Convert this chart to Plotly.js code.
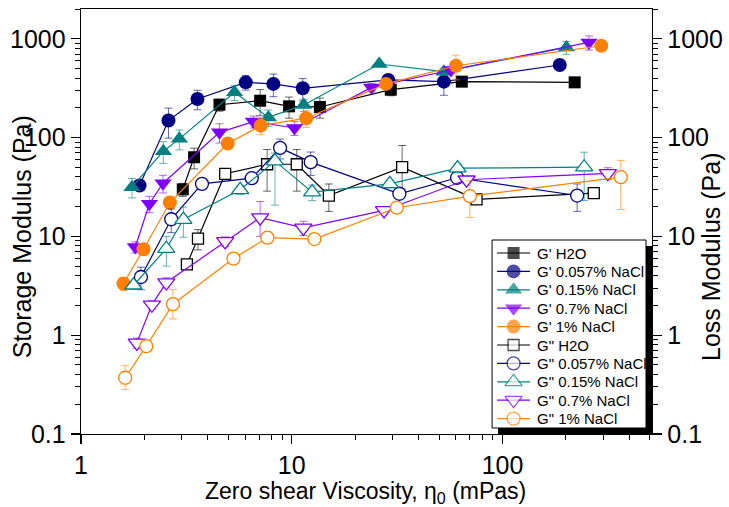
<!DOCTYPE html>
<html>
<head>
<meta charset="utf-8">
<script src="https://cdn.plot.ly/plotly-3.0.1.min.js"></script>
<style>html,body{margin:0;padding:0;background:#fff;}#chart{width:729px;height:507px;}</style>
</head>
<body>
<div id="chart"></div>
<script>
// ---- data ----
const seriesNames = ["G' H2O", "G' 0.057% NaCl", "G' 0.15% NaCl", "G' 0.7% NaCl", "G' 1% NaCl",
                     'G" H2O', 'G" 0.057% NaCl', 'G" 0.15% NaCl', 'G" 0.7% NaCl', 'G" 1% NaCl'];

const gpH2O_x   = [3.04, 3.44, 4.54, 7.08, 9.71, 13.6, 29.5, 64.1, 220];
const gpH2O_y   = [29.9, 63.2, 215, 236, 207, 204, 305, 368, 362];
const gpH2O_e   = [4.5, 15, 30, 70, 50, 47, 40, 0, 0];

const gp057_x   = [1.896, 2.60, 3.57, 6.05, 8.18, 11.28, 28.7, 52.7, 186.9];
const gp057_y   = [32.7, 148.6, 246, 362, 349, 315, 383, 368, 542];
const gp057_e   = [3, 50, 55, 60, 90, 80, 50, 100, 0];

const gp015_x   = [1.745, 2.46, 2.93, 5.35, 7.75, 11.4, 26.0, 52.7, 201];
const gp015_y   = [31.5, 72.8, 97, 287, 160, 214, 555, 464, 816];
const gp015_e   = [7, 18, 22, 50, 30, 30, 0, 40, 120];

const gp07_x    = [1.81, 2.11, 2.45, 4.54, 6.58, 10.3, 23.9, 56.9, 257];
const gp07_y    = [7.8, 21.4, 34.5, 113, 145, 125, 322, 483, 918];
const gp07_e    = [1, 4, 7, 25, 20, 20, 30, 40, 150];

const gp1_x     = [1.59, 1.98, 2.64, 4.97, 7.13, 11.7, 28.0, 60.1, 294];
const gp1_y     = [3.33, 7.4, 22, 87, 132, 157, 349, 533, 850];
const gp1_e     = [0.5, 1, 3, 5, 25, 30, 20, 150, 0];

const gppH2O_x  = [3.18, 3.59, 4.83, 7.64, 10.56, 15.0, 33.4, 75.3, 271];
const gppH2O_y  = [5.2, 9.5, 43, 53.7, 53.7, 25.9, 50.1, 23.7, 27.4];
const gppH2O_eu = [0.5, 2.2, 3, 22, 22, 8, 33, 1, 2];
const gppH2O_ed = [0.5, 2.2, 3, 25, 25, 8, 20, 1, 2];

const gpp057_x  = [1.925, 2.68, 3.75, 6.46, 8.80, 12.3, 32.4, 60.9, 226];
const gpp057_y  = [3.88, 14.9, 34.0, 38.8, 78.7, 56.4, 27.0, 39.2, 25.9];
const gpp057_e  = [1, 4, 3, 4, 18, 15, 2, 3, 8];

const gpp015_x  = [1.775, 2.54, 3.06, 5.69, 8.33, 12.5, 29.2, 61.2, 244];
const gpp015_y  = [3.2, 7.5, 14.8, 29.6, 57.7, 28.0, 34.0, 49.0, 50.1];
const gpp015_eu = [0.3, 2.5, 5, 3, 12, 5, 3, 5, 21];
const gpp015_ed = [0.3, 2.5, 5, 3, 37, 5, 3, 5, 27];

const gpp07_x   = [1.84, 2.17, 2.54, 4.83, 7.08, 11.35, 27.4, 67.5, 316];
const gpp07_y   = [0.836, 2.03, 3.41, 8.9, 15.5, 12.2, 18.3, 37.4, 43.5];
const gpp07_eu  = [0.1, 0.2, 0.4, 1, 7, 2, 1, 3, 6];
const gpp07_ed  = [0.1, 0.2, 0.4, 1, 5.5, 2, 1, 3, 6];

const gpp1_x    = [1.62, 2.04, 2.73, 5.29, 7.66, 12.8, 31.5, 70, 364];
const gpp1_y    = [0.371, 0.774, 2.06, 5.96, 9.7, 9.4, 19.5, 25.5, 39.7];
const gpp1_eu   = [0.12, 0.08, 0.85, 0.3, 0.5, 0.5, 1, 11, 19];
const gpp1_ed   = [0.09, 0.08, 0.6, 0.3, 0.5, 0.5, 1, 10, 21];

const yTickVals = [0.1, 1, 10, 100, 1000];
const yTickText = ['0.1', '1', '10', '100', '1000'];
const xTickVals = [1, 10, 100];
const xTickText = ['1', '10', '100'];

const xTitle  = 'Zero shear Viscosity, η<sub>0</sub> (mPas)';
const yTitle  = 'Storage Modulus (Pa)';
const y2Title = 'Loss Modulus (Pa)';

// ---- styling ----
const FONT = 'Liberation Sans, Arial, sans-serif';
const C = {black:'#000000', navy:'#000080', teal:'#008080', purple:'#8000FF', orange:'#FF8000'};

function errColor(hex){
  const r=parseInt(hex.slice(1,3),16), g=parseInt(hex.slice(3,5),16), b=parseInt(hex.slice(5,7),16);
  return 'rgba('+r+','+g+','+b+',0.6)';
}

const styles = [
  {color:C.black,  symbol:'square',        size:12, open:false},
  {color:C.navy,   symbol:'circle',        size:14, open:false},
  {color:C.teal,   symbol:'triangle-up',   size:15, open:false},
  {color:C.purple, symbol:'triangle-down', size:15, open:false},
  {color:C.orange, symbol:'circle',        size:14, open:false},
  {color:C.black,  symbol:'square',        size:11, open:true},
  {color:C.navy,   symbol:'circle',        size:13, open:true},
  {color:C.teal,   symbol:'triangle-up',   size:15, open:true},
  {color:C.purple, symbol:'triangle-down', size:15, open:true},
  {color:C.orange, symbol:'circle',        size:13, open:true}
];

const dataSets = [
  [gpH2O_x, gpH2O_y, gpH2O_e, gpH2O_e],
  [gp057_x, gp057_y, gp057_e, gp057_e],
  [gp015_x, gp015_y, gp015_e, gp015_e],
  [gp07_x, gp07_y, gp07_e, gp07_e],
  [gp1_x, gp1_y, gp1_e, gp1_e],
  [gppH2O_x, gppH2O_y, gppH2O_eu, gppH2O_ed],
  [gpp057_x, gpp057_y, gpp057_e, gpp057_e],
  [gpp015_x, gpp015_y, gpp015_eu, gpp015_ed],
  [gpp07_x, gpp07_y, gpp07_eu, gpp07_ed],
  [gpp1_x, gpp1_y, gpp1_eu, gpp1_ed]
];

const traces = dataSets.map((d, i) => {
  const s = styles[i];
  return {
    type:'scatter', mode:'lines+markers', name:seriesNames[i], showlegend:false,
    x:d[0], y:d[1],
    line:{color:s.color, width:1.2},
    marker:{symbol:s.symbol, size:s.size,
            color: s.open ? '#ffffff' : s.color,
            line: s.open ? {width:1.3, color:s.color} : {width:0}},
    error_y:{type:'data', symmetric:false, array:d[2], arrayminus:d[3],
             color:errColor(s.color), thickness:1, width:4},
    xaxis:'x', yaxis: s.open ? 'y2' : 'y'
  };
});

// ---- legend (drawn on a hidden pixel-like overlay axis pair) ----
const LEG = {left:492, right:646, top:240, bottom:428, row0:253, step:18.4,
             lineX0:497, markX:513.5, lineX1:530, textX:535};
const legendAnnotations = [];
seriesNames.forEach((nm, i) => {
  const s = styles[i];
  const ry = LEG.row0 + i*LEG.step;
  traces.push({
    type:'scatter', mode:'lines+markers', showlegend:false, hoverinfo:'skip',
    x:[LEG.lineX0, LEG.markX, LEG.lineX1], y:[ry, ry, ry],
    line:{color:s.color, width:1.2},
    marker:{symbol:s.symbol, size:[0, s.size, 0],
            color: s.open ? '#ffffff' : s.color,
            line: s.open ? {width:[0,1.3,0], color:s.color} : {width:0}},
    xaxis:'x3', yaxis:'y3'
  });
  legendAnnotations.push({
    xref:'x3', yref:'y3', x:LEG.textX, y:ry, text:nm, showarrow:false,
    xanchor:'left', yanchor:'middle',
    font:{family:FONT, size:15, color:'#000'}
  });
});

function minorVals(lo, hi){
  const v=[];
  for(let k=lo;k<hi;k++) for(let d=2; d<=9; d++) v.push(d*Math.pow(10,k));
  return v;
}

const yRange = [-1, Math.log10(2000)];
const yCommon = {
  type:'log', range:yRange, showgrid:false, zeroline:false,
  showline:true, linecolor:'#000', linewidth:1.3,
  ticks:'outside', ticklen:9, tickwidth:1.3, tickcolor:'#000',
  tickmode:'array', tickvals:yTickVals, ticktext:yTickText,
  tickfont:{family:FONT, size:25, color:'#000'},
  minor:{tickmode:'array', tickvals:minorVals(-1,4), ticks:'outside', ticklen:5, tickwidth:1, tickcolor:'#000', showgrid:false},
  automargin:false
};

const PL = 80.7, PR = 652, PT = 9, PB = 434;
const px2paperX = p => (p - PL) / (PR - PL);
const px2paperY = p => (PB - p) / (PB - PT);

const layout = {
  width:729, height:507,
  margin:{l:81, r:77, t:9, b:73},
  paper_bgcolor:'#fff', plot_bgcolor:'#fff',
  font:{family:FONT, color:'#000'},
  showlegend:false,
  xaxis:{
    type:'log', range:[0, Math.log10(512)], showgrid:false, zeroline:false,
    showline:true, mirror:true, linecolor:'#000', linewidth:1.3,
    ticks:'outside', ticklen:9, tickwidth:1.3, tickcolor:'#000',
    tickmode:'array', tickvals:xTickVals, ticktext:xTickText,
    tickfont:{family:FONT, size:25, color:'#000'},
    minor:{tickmode:'array', tickvals:minorVals(0,3), ticks:'outside', ticklen:5, tickwidth:1, tickcolor:'#000', showgrid:false},
    automargin:false
  },
  yaxis:Object.assign({}, yCommon, {side:'left'}),
  yaxis2:Object.assign({}, yCommon, {side:'right', overlaying:'y', anchor:'x'}),
  xaxis3:{domain:[0,1], range:[PL, PR], visible:false, overlaying:'x', anchor:'y3', fixedrange:true},
  yaxis3:{domain:[0,1], range:[PB, PT], visible:false, overlaying:'y', anchor:'x3', fixedrange:true},
  shapes:[
    {type:'rect', xref:'x3', yref:'y3', layer:'below',
     x0:LEG.left+6, x1:PR, y0:LEG.top+6, y1:PB, fillcolor:'#000', line:{width:0}},
    {type:'rect', xref:'x3', yref:'y3', layer:'below',
     x0:LEG.left, x1:LEG.right, y0:LEG.top, y1:LEG.bottom, fillcolor:'#fff', line:{width:1, color:'#000'}}
  ],
  annotations:[
    {xref:'paper', yref:'paper', x:px2paperX(365), y:px2paperY(492), text:xTitle, showarrow:false,
     xanchor:'center', yanchor:'middle', font:{family:FONT, size:23, color:'#000'}},
    {xref:'paper', yref:'paper', x:px2paperX(22), y:px2paperY(237), text:yTitle, showarrow:false,
     textangle:-90, xanchor:'center', yanchor:'middle', font:{family:FONT, size:25, color:'#000'}},
    {xref:'paper', yref:'paper', x:px2paperX(711), y:px2paperY(257), text:y2Title, showarrow:false,
     textangle:-90, xanchor:'center', yanchor:'middle', font:{family:FONT, size:25, color:'#000'}}
  ].concat(legendAnnotations)
};

Plotly.newPlot('chart', traces, layout, {displayModeBar:false, staticPlot:true});
</script>
</body>
</html>
